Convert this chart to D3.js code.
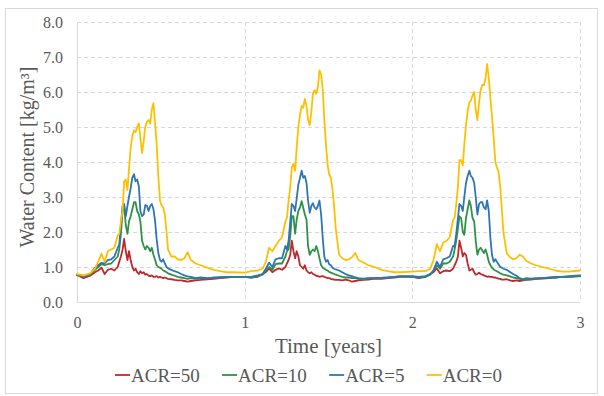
<!DOCTYPE html>
<html>
<head>
<meta charset="utf-8">
<script src="https://cdn.jsdelivr.net/npm/d3@7"></script>
<style>
  html, body { margin: 0; padding: 0; background: #ffffff; }
  svg { display: block; }
  text { font-family: "Liberation Serif", "Times New Roman", serif; fill: #595959; }
</style>
</head>
<body>
<svg id="chart" width="604" height="396"></svg>
<script>
// ---- Data ----
const yearStarts = [0, 1, 2];
// sample positions inside each year (fraction of a year)
const timeOffsets = [0, 0.039, 0.078, 0.107, 0.126, 0.146, 0.165, 0.184, 0.204, 0.223,
  0.243, 0.252, 0.262, 0.272, 0.281, 0.291, 0.301, 0.310, 0.320, 0.330,
  0.340, 0.349, 0.359, 0.369, 0.378, 0.388, 0.398, 0.407, 0.417, 0.427,
  0.437, 0.446, 0.456, 0.466, 0.475, 0.485, 0.495, 0.504, 0.514, 0.524,
  0.534, 0.543, 0.563, 0.582, 0.601, 0.621, 0.640, 0.660, 0.679, 0.708,
  0.737, 0.776, 0.815, 0.854, 0.892, 0.931];
const endTime = 3;

const seriesNames = ["ACR=50", "ACR=10", "ACR=5", "ACR=0"];
const seriesColors = ["#c0282e", "#2f9148", "#2e75b6", "#ffc000"];

const acr50 = [
  // year 1
  0.77,0.68,0.75,0.85,0.9,0.98,0.8,0.92,0.95,0.9,
  1.0,1.15,1.3,1.5,1.8,1.45,1.2,1.45,1.2,1.0,
  0.9,0.95,0.85,0.8,0.88,0.82,0.85,0.78,0.8,0.75,
  0.74,0.76,0.72,0.72,0.74,0.7,0.72,0.7,0.68,0.7,
  0.68,0.66,0.65,0.63,0.62,0.62,0.6,0.58,0.6,0.62,
  0.63,0.65,0.66,0.68,0.7,0.72,
  // year 2
  0.72,0.7,0.72,0.8,0.85,0.96,0.85,0.92,0.96,0.92,
  1.0,1.1,1.2,1.35,1.75,1.45,1.25,1.45,1.3,1.05,
  1.0,0.95,1.05,0.9,0.85,0.82,0.85,0.8,0.78,0.75,
  0.74,0.72,0.73,0.74,0.72,0.7,0.68,0.68,0.66,0.65,
  0.64,0.63,0.63,0.62,0.64,0.62,0.58,0.6,0.62,0.63,
  0.64,0.67,0.66,0.68,0.7,0.72,
  // year 3
  0.72,0.68,0.72,0.8,0.85,0.96,0.82,0.88,0.9,0.88,
  0.95,1.05,1.15,1.3,1.75,1.55,1.3,1.4,1.35,1.1,
  0.9,0.92,0.95,0.85,0.78,0.8,0.84,0.8,0.78,0.76,
  0.74,0.72,0.73,0.72,0.72,0.7,0.7,0.68,0.67,0.66,
  0.64,0.64,0.65,0.62,0.6,0.62,0.6,0.62,0.63,0.64,
  0.66,0.67,0.68,0.7,0.72,0.72,
  // end
  0.74];

const acr10 = [
  0.77,0.73,0.78,0.92,1.0,1.08,1.05,1.08,1.1,1.2,
  1.3,1.5,1.95,2.6,2.75,2.2,1.95,2.3,2.45,2.65,
  2.85,2.85,2.6,2.5,2.3,1.75,1.6,1.5,1.6,1.55,
  1.45,1.55,1.35,1.2,1.05,1.0,0.98,0.95,0.9,0.88,
  0.85,0.82,0.78,0.75,0.72,0.7,0.68,0.66,0.68,0.66,
  0.68,0.67,0.7,0.71,0.72,0.72,
  0.72,0.7,0.74,0.78,0.9,1.0,0.92,1.08,1.1,1.1,
  1.3,1.45,1.5,1.9,2.45,2.45,1.95,2.35,2.6,2.7,
  2.88,2.7,2.5,2.35,1.6,1.35,1.45,1.5,1.45,1.6,
  1.45,1.25,1.05,0.98,0.95,0.92,0.9,0.86,0.84,0.82,
  0.8,0.78,0.75,0.72,0.7,0.7,0.68,0.68,0.66,0.65,
  0.67,0.68,0.69,0.7,0.72,0.73,
  0.72,0.7,0.72,0.78,0.9,1.05,0.95,1.1,1.1,1.15,
  1.3,1.5,1.75,2.1,2.45,2.4,2.0,1.92,2.4,2.65,
  2.9,2.75,2.4,2.3,1.75,1.35,1.5,1.55,1.48,1.4,
  1.5,1.35,1.15,1.05,0.98,0.93,0.9,0.88,0.85,0.82,
  0.8,0.78,0.76,0.73,0.7,0.68,0.66,0.64,0.64,0.66,
  0.66,0.68,0.69,0.7,0.72,0.72,
  0.74];

const acr5 = [
  0.78,0.75,0.8,0.98,1.05,1.12,1.1,1.2,1.22,1.3,
  1.55,1.65,2.2,2.75,2.8,2.45,2.75,3.0,3.25,3.55,
  3.65,3.45,3.5,3.3,2.6,2.45,2.5,2.77,2.75,2.6,
  2.75,2.8,2.65,2.3,1.8,1.4,1.2,1.15,1.22,1.1,
  1.0,0.96,0.92,0.88,0.85,0.8,0.76,0.73,0.72,0.68,
  0.7,0.68,0.68,0.7,0.72,0.72,
  0.72,0.72,0.76,0.8,0.95,1.12,1.0,1.22,1.25,1.25,
  1.6,1.5,1.75,2.3,2.8,2.75,2.6,2.95,3.35,3.55,
  3.75,3.55,3.6,3.4,2.9,2.55,2.75,2.82,2.7,2.65,
  2.75,2.9,2.5,1.8,1.3,1.15,1.2,1.08,1.05,0.98,
  0.95,0.93,0.9,0.85,0.8,0.76,0.74,0.7,0.68,0.67,
  0.68,0.68,0.69,0.7,0.72,0.74,
  0.74,0.72,0.74,0.8,0.9,1.15,1.0,1.22,1.25,1.3,
  1.6,1.6,1.95,2.4,2.8,2.75,2.6,3.0,3.4,3.6,
  3.75,3.6,3.55,3.4,3.0,2.5,2.8,2.85,2.85,2.7,
  2.65,2.9,2.6,1.8,1.35,1.15,1.22,1.15,1.08,1.0,
  0.98,0.95,0.92,0.86,0.8,0.75,0.68,0.65,0.68,0.67,
  0.68,0.68,0.7,0.72,0.72,0.74,
  0.76];

const acr0 = [
  0.80,0.76,0.82,0.95,1.15,1.38,1.15,1.45,1.50,1.55,
  1.90,1.95,2.3,2.6,3.45,3.5,3.2,3.8,4.4,4.75,
  4.9,4.85,5.0,5.1,4.7,4.25,4.6,5.0,5.15,5.2,
  5.1,5.5,5.68,5.1,4.5,3.6,2.9,2.77,2.7,2.5,
  2.0,1.5,1.3,1.3,1.22,1.2,1.25,1.42,1.2,1.1,
  1.05,0.98,0.92,0.88,0.85,0.85,
  0.84,0.88,0.9,0.95,1.15,1.55,1.45,1.6,1.75,1.85,
  2.3,2.4,2.9,3.3,3.85,3.95,3.75,4.4,5.0,5.35,
  5.6,5.55,5.8,5.6,5.2,5.05,5.45,5.95,6.05,5.95,
  6.15,6.62,6.5,6.05,5.2,4.5,3.9,3.65,3.55,3.2,
  2.7,2.1,1.35,1.25,1.2,1.22,1.28,1.4,1.2,1.13,
  1.05,1.0,0.92,0.88,0.85,0.85,
  0.87,0.88,0.88,0.95,1.2,1.65,1.45,1.7,1.75,1.85,
  2.35,2.4,2.8,3.3,4.05,4.05,3.9,4.5,5.05,5.45,
  5.7,5.75,5.9,6.0,5.5,5.2,5.7,6.05,6.2,6.2,
  6.4,6.8,6.4,5.8,5.3,4.7,4.0,3.85,3.72,3.3,
  2.65,2.0,1.4,1.28,1.22,1.25,1.35,1.3,1.18,1.1,
  1.05,1.0,0.95,0.9,0.87,0.87,
  0.9];

const yTicks = [0, 1, 2, 3, 4, 5, 6, 7, 8];
const xTicks = [0, 1, 2, 3];
const yTitle = "Water Content [kg/m³]";
const xTitle = "Time [years]";

// ---- Build ----
const time = yearStarts.flatMap(ys => timeOffsets.map(o => +(ys + o).toFixed(3))).concat([endTime]);
const allSeries = [acr50, acr10, acr5, acr0];

const svg = d3.select("#chart");
const W = 604, H = 396;
const plot = { left: 77, right: 580, top: 22, bottom: 302 };
const gridColor = "#d9d9d9";

svg.append("rect").attr("x", 0).attr("y", 0).attr("width", W).attr("height", H).attr("fill", "#fff");
svg.append("rect").attr("x", 5.5).attr("y", 8.5).attr("width", 592).attr("height", 385)
  .attr("fill", "none").attr("stroke", gridColor).attr("stroke-width", 1);

const x = d3.scaleLinear().domain([0, 3]).range([plot.left, plot.right]);
const y = d3.scaleLinear().domain([0, 8]).range([plot.bottom, plot.top]);

// gridlines
const grid = svg.append("g");
grid.selectAll("line.h").data(yTicks.filter(d => d > 0)).join("line")
  .attr("x1", plot.left).attr("x2", plot.right)
  .attr("y1", d => Math.round(y(d)) + 0.5).attr("y2", d => Math.round(y(d)) + 0.5)
  .attr("stroke", gridColor).attr("stroke-width", 1).attr("stroke-dasharray", "4,3");
grid.selectAll("line.v").data(xTicks.filter(d => d > 0)).join("line")
  .attr("y1", plot.top).attr("y2", plot.bottom)
  .attr("x1", d => Math.round(x(d)) + 0.5).attr("x2", d => Math.round(x(d)) + 0.5)
  .attr("stroke", gridColor).attr("stroke-width", 1).attr("stroke-dasharray", "4,3");
// solid axis lines
grid.append("line").attr("x1", plot.left).attr("x2", plot.right)
  .attr("y1", Math.round(y(0)) + 0.5).attr("y2", Math.round(y(0)) + 0.5)
  .attr("stroke", gridColor).attr("stroke-width", 1);
grid.append("line").attr("x1", Math.round(x(0)) + 0.5).attr("x2", Math.round(x(0)) + 0.5)
  .attr("y1", plot.top).attr("y2", plot.bottom)
  .attr("stroke", gridColor).attr("stroke-width", 1);

// axes (labels only)
const yAxis = svg.append("g").attr("transform", `translate(${plot.left},0)`)
  .call(d3.axisLeft(y).tickValues(yTicks).tickFormat(d => d.toFixed(1)).tickSize(0).tickPadding(14));
const xAxis = svg.append("g").attr("transform", `translate(0,${plot.bottom})`)
  .call(d3.axisBottom(x).tickValues(xTicks).tickFormat(d3.format("d")).tickSize(0).tickPadding(15));
[yAxis, xAxis].forEach(g => {
  g.select(".domain").remove();
  g.selectAll("text").attr("font-family", "Liberation Serif, serif").attr("font-size", 16).attr("fill", "#595959");
});

// lines
const line = d3.line().x((d, i) => x(time[i])).y(d => y(d));
allSeries.forEach((s, k) => {
  svg.append("path").datum(s).attr("d", line)
    .attr("fill", "none").attr("stroke", seriesColors[k])
    .attr("stroke-width", 1.8).attr("stroke-linejoin", "round").attr("stroke-linecap", "round");
});

// titles
svg.append("text").attr("x", (plot.left + plot.right) / 2).attr("y", 353)
  .attr("text-anchor", "middle").attr("font-size", 21).text(xTitle);
svg.append("text").attr("transform", `translate(34,157) rotate(-90)`)
  .attr("text-anchor", "middle").attr("font-size", 20).text(yTitle);

// legend
const legend = svg.append("g");
const items = seriesNames.map((n, k) => {
  const g = legend.append("g");
  g.append("line").attr("x1", 0).attr("x2", 15).attr("y1", 0).attr("y2", 0)
    .attr("stroke", seriesColors[k]).attr("stroke-width", 1.8);
  const t = g.append("text").attr("x", 16).attr("y", 0).attr("dy", "0.35em")
    .attr("font-size", 19).text(n);
  return { g, w: 16 + t.node().getComputedTextLength() };
});
const legendStart = 115, legendEnd = 502;
const gap = (legendEnd - legendStart - d3.sum(items, d => d.w)) / (items.length - 1);
let cx = legendStart;
items.forEach(it => { it.g.attr("transform", `translate(${cx},375)`); cx += it.w + gap; });
</script>
</body>
</html>
